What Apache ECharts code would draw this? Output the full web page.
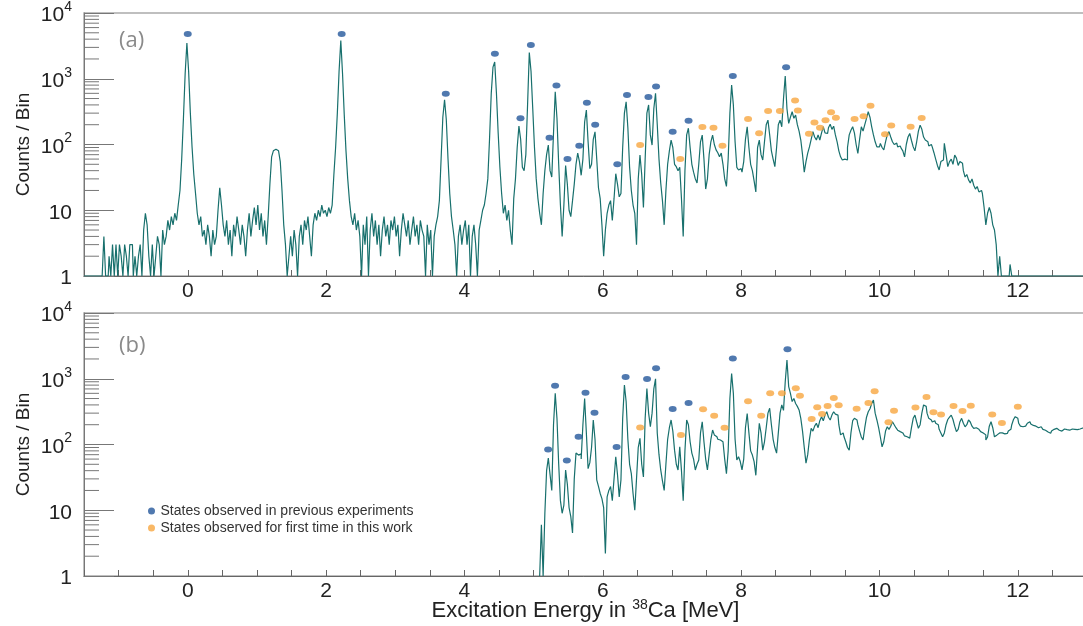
<!DOCTYPE html>
<html><head><meta charset="utf-8">
<script src="https://cdn.jsdelivr.net/npm/echarts@6/dist/echarts.min.js"></script>
<style>html,body{margin:0;padding:0;background:#fff}#c{width:1083px;height:626px}</style>
</head><body><div id="c"></div>
<script>
// Histogram bins (MeV)
const binWidth = 0.025;
const startA = -1.5;
const countsA = [
1,1,1,1,1,1,1,1,1,1,1,1,4,1,1,2,1,3,1,3,
1,3,2,1,3,2,1,3,3,1,2,1,2,3,1,5,9,6,2,1,
3,1,2,4,3,1,5,3,4,7,5,8,6,9,7,12,20,60,250,1200,
3500,1300,300,90,35,18,9,6,8,4,5,3,6,4,2,5,3,4,10,22,
12,6,4,7,3,5,2,6,4,8,5,3,6,4,2,5,9,4,7,11,
6,12,5,9,4,7,3,8,25,65,80,85,80,75,55,20,6,3,1,2,
4,2,5,3,1,4,6,3,7,5,8,4,2,6,9,7,10,8,12,9,
10,8,11,9,12,35,90,300,1300,3800,1200,280,80,30,14,8,6,9,5,7,
4,1,6,3,8,1,5,9,4,7,3,6,2,5,8,4,6,3,7,5,
8,4,6,2,5,9,6,4,7,3,5,8,4,6,3,7,5,4,1,6,
3,5,1,4,6,8,14,60,260,480,240,60,18,8,5,3,1,4,6,3,
5,7,3,6,1,4,6,3,1,5,7,10,12,18,30,120,600,1500,1800,600,
150,45,18,9,12,7,10,5,3,15,30,90,190,120,45,40,70,400,2500,1300,
350,90,30,15,9,6,18,40,70,98,40,32,150,635,250,50,12,4,12,48,
25,10,8,14,25,50,74,55,34,60,220,335,110,43,50,120,156,60,22,15,
6,2,5,9,12,14,7,15,36,25,16,18,90,300,445,180,45,20,12,9,
3,30,69,35,11,60,300,400,140,98,350,600,200,60,26,14,6,20,50,80,
117,90,50,46,40,45,15,4,40,140,177,90,50,38,30,26,50,110,139,60,
21,30,70,110,139,100,83,75,65,74,50,30,23,60,300,800,400,110,45,41,
43,38,55,120,186,90,50,40,28,19,90,117,70,58,110,200,235,140,80,60,
46,90,200,235,186,500,1100,350,210,260,315,250,280,200,160,117,70,38,55,74,
92,120,157,130,117,140,117,150,186,150,147,180,204,170,190,140,110,80,65,58,
60,58,90,140,165,186,150,100,73,120,186,160,200,250,315,260,186,140,110,92,
92,104,90,83,110,140,157,130,110,100,105,92,95,88,80,65,100,130,147,115,
92,80,110,160,197,170,130,117,110,95,100,92,75,60,48,41,55,58,104,70,
46,55,60,50,69,62,48,55,52,40,32,35,29,26,30,24,21,23,19,20,
18,11,6,9,11,9,6,5,3,1,2,1,1,1,1,1,1.5,1,1,1,
1,1,1,1,1,1,1,1,1,1,1,1,1,1,1,1,1,1,1,1,
1,1,1,1,1,1,1,1,1,1,1,1,1,1,1,1,1,1,1,1
];
const startB = 5.0;
const countsB = [
null,null,null,null,1,6,1,9,40,62,35,20,200,600,250,50,14,9,12,41,
25,11,8,4.5,30,74,69,72,60,200,500,150,43,53,90,236,120,29,23,18,
15,11,2.2,16,20,23,14,30,65,35,16,29,250,800,450,120,50,36,18,10,
30,90,124,50,32,250,710,300,186,300,700,1000,148,70,41,28,20,50,120,180,
236,160,82,50,41,92,40,14,80,236,200,110,74,60,41,50,58,150,222,110,
60,41,70,120,166,140,131,120,117,110,117,60,36,80,500,1200,600,120,58,65,
55,41,60,180,296,150,80,69,55,34,90,210,150,82,110,180,300,355,200,120,
90,74,150,300,400,330,900,1920,760,600,450,500,420,380,335,250,160,90,52,70,
120,176,160,190,210,180,230,265,230,280,315,260,236,280,315,290,280,200,140,150,
131,110,90,82,150,230,250,236,200,160,130,117,180,260,315,350,420,475,300,236,
180,130,92,110,160,186,170,190,222,200,180,165,157,150,140,135,131,125,131,180,
250,280,220,176,200,300,400,380,300,250,236,220,230,210,200,170,150,131,150,200,
240,260,280,240,190,157,170,220,250,210,186,200,236,220,190,176,180,170,165,157,
150,140,117,130,190,222,180,131,140,150,157,150,145,140,148,160,170,200,240,265,
250,210,190,186,190,200,210,222,205,195,190,186,180,186,175,170,165,155,150,148,
160,170,176,170,165,160,168,172,168,160,165,172,176,170,168,175,172,178,176,174
];
// State markers [energy MeV, counts]
const prevA = [[0,4800],[2.225,4800],[3.73,590],[4.44,2400],[4.81,250],[4.96,3260],[5.23,127],[5.33,790],[5.49,60],[5.66,96],[5.77,433],[5.89,200],[6.21,50],[6.35,565],[6.66,530],[6.77,765],[7.01,156],[7.24,230],[7.88,1100],[8.65,1490]];
const newA = [[6.54,98],[7.12,60],[7.44,185],[7.60,180],[7.73,96],[8.10,245],[8.26,148],[8.39,323],[8.56,323],[8.78,465],[8.82,330],[8.98,146],[9.06,217],[9.14,180],[9.22,234],[9.30,310],[9.37,256],[9.64,245],[9.77,268],[9.87,388],[10.08,143],[10.17,194],[10.45,186],[10.61,253]];
const prevB = [[5.21,84],[5.31,780],[5.48,57],[5.65,131],[5.75,610],[5.88,303],[6.20,92],[6.33,1060],[6.64,990],[6.77,1440],[7.01,346],[7.24,428],[7.88,2040],[8.67,2800]];
const newB = [[6.54,182],[7.13,139],[7.45,344],[7.61,274],[7.76,180],[8.10,453],[8.29,274],[8.42,600],[8.59,600],[8.79,715],[8.85,550],[9.02,244],[9.10,370],[9.17,290],[9.25,386],[9.34,510],[9.41,395],[9.67,350],[9.84,428],[9.93,645],[10.13,218],[10.21,325],[10.52,364],[10.68,527],[10.78,310],[10.89,287],[11.07,386],[11.20,322],[11.32,390],[11.63,287],[11.77,212],[12.00,375]];
const xLabels = [0,2,4,6,8,10,12];
const yMinorTicks = [2,3,4,5,6,7,8,9,20,30,40,50,60,70,80,90,200,300,400,500,600,700,800,900,2000,3000,4000,5000,6000,7000,8000,9000];
const panelLabels = ['(a)','(b)'];
const prevName = 'States observed in previous experiments';
const newName = 'States observed for first time in this work';

const X_MIN = -1.5, X_MAX = 13;
const lineColor = '#18706d';
const blue = '#24579b', orange = '#f8a640';
const font = "'Liberation Sans', Arial, sans-serif";

function toXY(start, counts){
  return counts.map((c,i)=>[Math.round((start + i*binWidth)*1000)/1000, c]);
}

function xAxis(gi, withName){
  return {
    type:'value', gridIndex:gi, min:X_MIN, max:X_MAX, interval:0.5,
    axisLine:{onZero:false, lineStyle:{color:'#666', width:1}},
    axisTick:{inside:true, length:6, lineStyle:{color:'#666'}},
    splitLine:{show:false},
    axisLabel:{margin:5, fontSize:21, color:'#222', fontFamily:font, hideOverlap:false,
      formatter:v=>{const r=Math.round(v*1000)/1000; return xLabels.includes(r)?String(r):'';}},
    name: withName ? '{n|Excitation Energy in }{s|38}{n|Ca [MeV]}' : '',
    nameLocation:'middle', nameGap:22, nameMoveOverlap:false,
    nameTextStyle:{rich:{
      n:{fontSize:22, color:'#222', fontFamily:font, lineHeight:24, verticalAlign:'bottom'},
      s:{fontSize:14, color:'#222', fontFamily:font, lineHeight:17, verticalAlign:'top'}}}
  };
}
function yAxis(gi){
  return {
    type:'log', logBase:10, gridIndex:gi, min:1, max:10000,
    axisLine:{onZero:false, lineStyle:{color:'#777'}},
    axisTick:{inside:true, length:30, lineStyle:{color:'#777'}},
    splitLine:{show:false}, minorTick:{show:false},
    axisLabel:{margin:12, fontFamily:font,
      formatter:v=>{const e=Math.round(Math.log10(v)); return e===0?'{b|1}':(e===1?'{b|10}':'{b|10}{s|'+e+'}');},
      rich:{
        b:{fontSize:21, color:'#222', fontFamily:font, lineHeight:26, verticalAlign:'bottom'},
        s:{fontSize:14, color:'#222', fontFamily:font, lineHeight:14, verticalAlign:'top'}}},
    name:'Counts / Bin', nameLocation:'middle', nameGap:51, nameMoveOverlap:false,
    nameTextStyle:{fontSize:19, color:'#222', fontFamily:font}
  };
}
function minorTicks(gi){
  return {
    type:'custom', xAxisIndex:gi, yAxisIndex:gi, silent:true, clip:false, z:5,
    data: yMinorTicks.map(v=>[X_MIN, v]),
    renderItem:(params, api)=>{
      const p = api.coord([api.value(0), api.value(1)]);
      return {type:'line', shape:{x1:p[0], y1:p[1], x2:p[0]+15, y2:p[1]}, style:{stroke:'#777', lineWidth:1}};
    }
  };
}
function spectrum(gi, data){
  return {type:'line', xAxisIndex:gi, yAxisIndex:gi, data:data, step:'middle', showSymbol:false,
    lineStyle:{color:lineColor, width:1.2}, connectNulls:false, z:2, silent:true};
}
function dots(gi, name, data, color){
  return {type:'scatter', name:name, xAxisIndex:gi, yAxisIndex:gi, data:data, symbol:'circle',
    symbolSize:[8,6], itemStyle:{color:color}, z:4, silent:true};
}

const chart = echarts.init(document.getElementById('c'), null, {renderer:'canvas'});
chart.setOption({
  animation:false,
  backgroundColor:'#fff',
  title:[
    {text:panelLabels[0], left:114, top:25, textStyle:{fontSize:22, color:'#8a8a8a', fontWeight:'normal', fontFamily:"'Open Sans', sans-serif"}},
    {text:panelLabels[1], left:114, top:330, textStyle:{fontSize:22, color:'#8a8a8a', fontWeight:'normal', fontFamily:"'Open Sans', sans-serif"}}
  ],
  legend:{orient:'vertical', left:148, top:504, itemWidth:8, itemHeight:7, itemGap:3, padding:0,
    icon:'circle', data:[prevName, newName],
    textStyle:{fontSize:14, color:'#333', fontFamily:font}},
  grid:[
    {left:84, width:1003, top:13, height:263, show:true, borderColor:'#aaa', borderWidth:1.5, containLabel:false, outerBoundsMode:'none'},
    {left:84, width:1003, top:313, height:263, show:true, borderColor:'#aaa', borderWidth:1.5, containLabel:false, outerBoundsMode:'none'}
  ],
  xAxis:[xAxis(0,false), xAxis(1,true)],
  yAxis:[yAxis(0), yAxis(1)],
  series:[
    spectrum(0, toXY(startA, countsA)),
    spectrum(1, toXY(startB, countsB)),
    dots(0, prevName, prevA, blue),
    dots(0, newName, newA, orange),
    dots(1, prevName, prevB, blue),
    dots(1, newName, newB, orange),
    minorTicks(0), minorTicks(1)
  ]
});
</script></body></html>
